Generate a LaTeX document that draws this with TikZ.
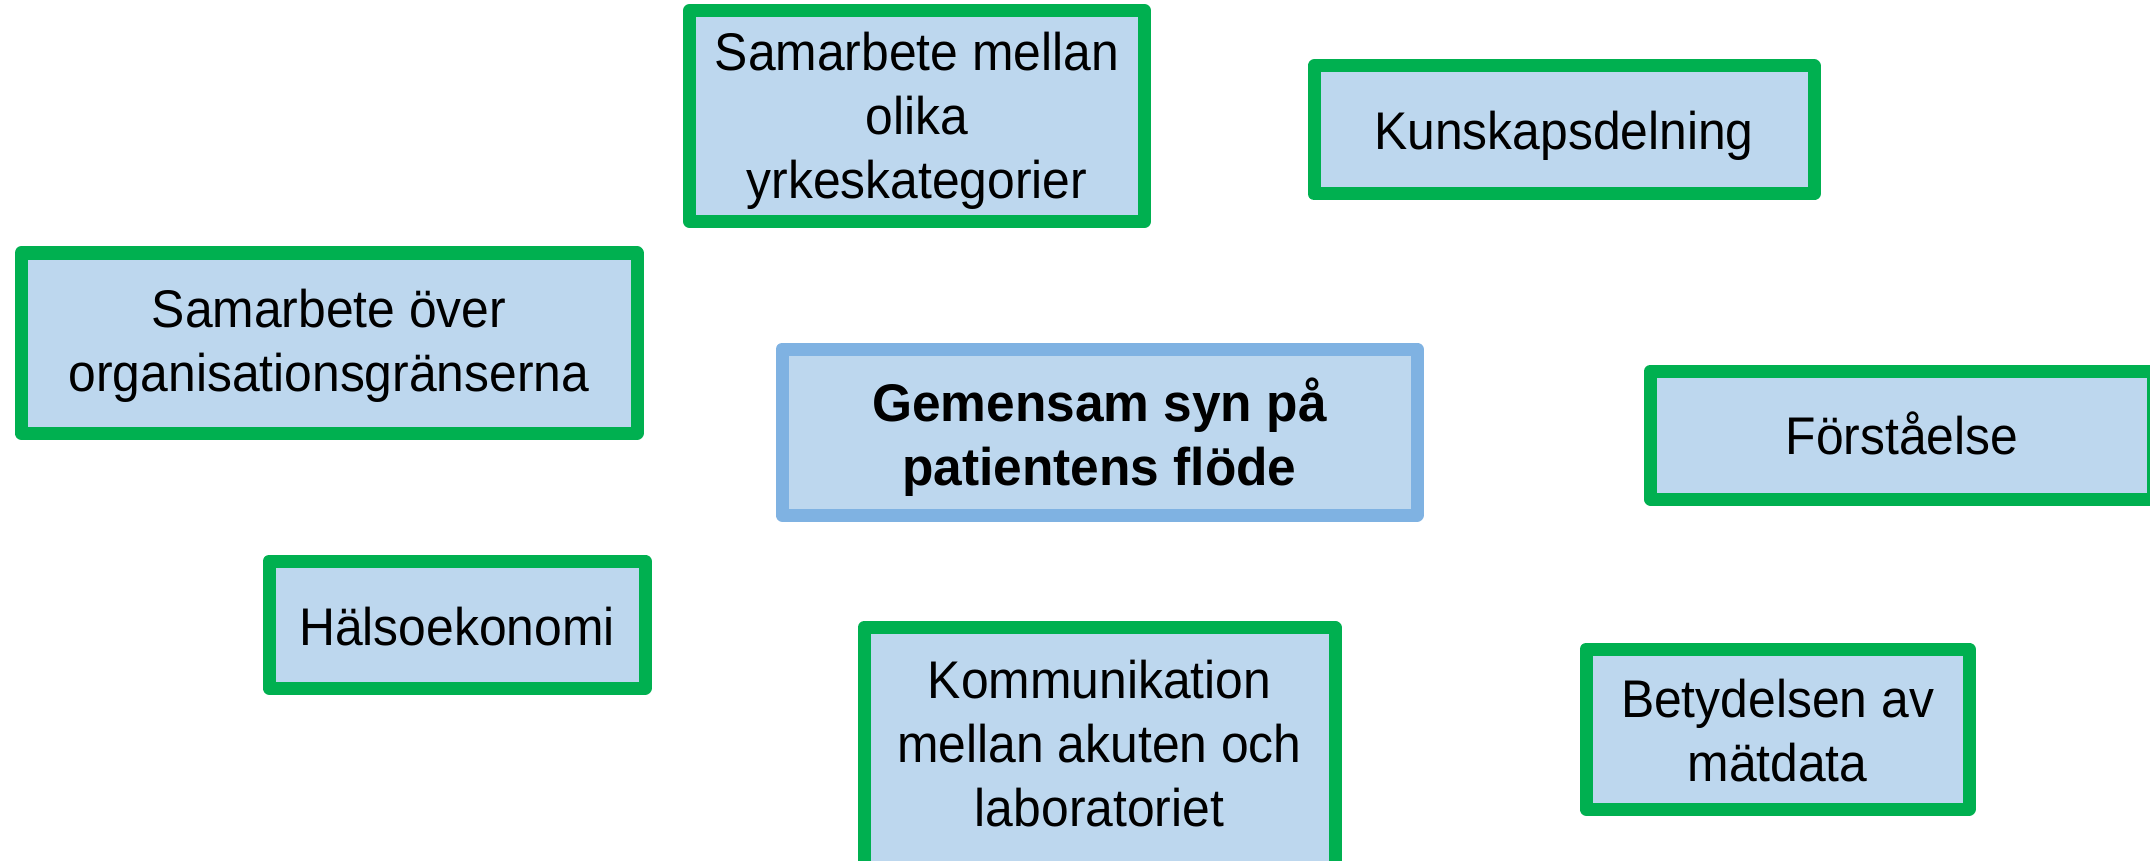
\documentclass[tikz,border=0pt]{standalone}
\usepackage{fontspec}
\setmainfont{Liberation Sans}[FakeStretch=0.94]
\newfontfamily\cboldfont[FakeStretch=0.97]{Liberation Sans Bold}
\definecolor{boxgreen}{RGB}{0,176,80}
\definecolor{boxfill}{RGB}{189,215,238}
\definecolor{boxblue}{RGB}{127,178,226}
\tikzset{
  box/.style={draw=boxgreen, line width=13pt, fill=boxfill, line join=round,
    align=center, inner sep=0pt, font=\fontsize{53pt}{64pt}\selectfont},
  mainbox/.style={box, draw=boxblue},
  boxtext/.style={align=center, inner sep=0pt, font=\fontsize{53pt}{64pt}\selectfont}
}
\begin{document}
\begin{tikzpicture}[x=1pt,y=-1pt]
\useasboundingbox (0,0) rectangle (2150,861);
\clip (0,0) rectangle (2150,861);
\node[box, minimum width=455pt, minimum height=211pt] (s1) at (917,116) {};
\node[boxtext] (s1t) at (917,121) {Samarbete mellan\\olika\\yrkeskategorier};
\node[box, minimum width=500pt, minimum height=128pt] (kd) at (1564,130) {};
\node[boxtext] (kdt) at (1564,136) {Kunskapsdelning};
\node[box, minimum width=616pt, minimum height=180pt] (so) at (329,343) {};
\node[boxtext] (sot) at (329,346) {Samarbete över\\organisationsgränserna};
\node[mainbox, minimum width=635pt, minimum height=166pt] (c) at (1099.5,432) {};
\node[boxtext, font=\fontsize{53pt}{64pt}\cboldfont] (ct) at (1099.5,437) {Gemensam syn på\\patientens flöde};
\node[box, minimum width=503pt, minimum height=128pt] (fo) at (1902,435) {};
\node[boxtext] (fot) at (1902,433) {Förståelse};
\node[box, minimum width=376pt, minimum height=127pt] (ha) at (457,624.5) {};
\node[boxtext] (hat) at (457,627) {Hälsoekonomi};
\node[box, minimum width=471pt, minimum height=242pt, anchor=north] (ko) at (1099.5,621) {};
\node[boxtext, anchor=base] (kot) at (1099.5,826) {Kommunikation\\mellan akuten och\\laboratoriet};
\node[box, minimum width=383pt, minimum height=160pt] (bm) at (1777.5,729) {};
\node[boxtext] (bmt) at (1777.5,731) {Betydelsen av\\mätdata};
\end{tikzpicture}
\end{document}
